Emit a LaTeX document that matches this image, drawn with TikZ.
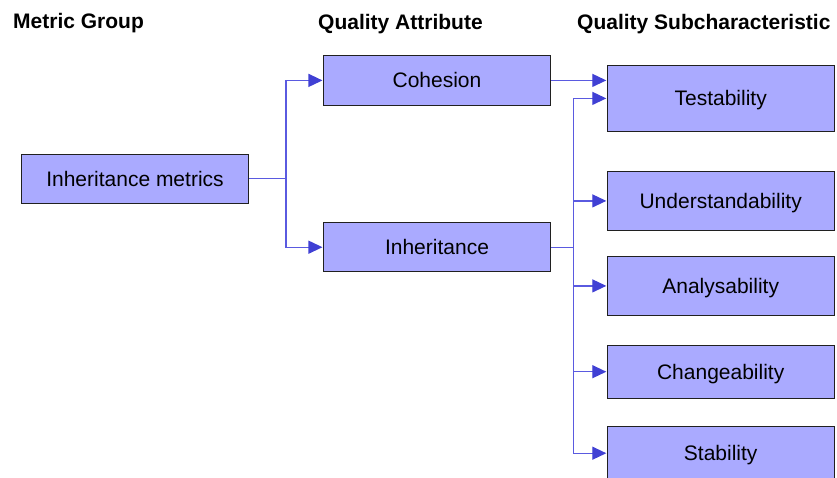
\documentclass[tikz,border=0pt]{standalone}
\usepackage{fontspec}
\setmainfont{Liberation Sans}
\usetikzlibrary{arrows.meta}
\definecolor{boxfill}{HTML}{AAAAFF}
\definecolor{boxline}{HTML}{202020}
\definecolor{conn}{HTML}{5A5AE0}
\definecolor{tip}{HTML}{4040D4}
\tikzset{
  box/.style={draw=boxline, line width=1.1pt, fill=boxfill, rectangle,
    minimum width=227pt, inner sep=0pt, text height=15pt, text depth=0pt,
    font=\fontsize{21}{25}\selectfont},
  header/.style={anchor=base west, inner sep=0pt, font=\fontsize{21}{25}\selectfont\bfseries},
  conn/.style={draw=conn, line width=1.3pt},
  arr/.style={conn, -{Triangle[length=14pt, width=13pt, color=tip]}, shorten >=0.5pt}
}
\begin{document}
\begin{tikzpicture}[x=1pt, y=-1pt]
\clip (0,0) rectangle (837,477);
\useasboundingbox (0,0) rectangle (837,477);
% headers
\node[header] (h1) at (13,28) {Metric Group};
\node[header] (h2) at (318,29.3) {Quality Attribute};
\node[header] (h3) at (577,29.3) {Quality Subcharacteristic};
% boxes
\node[box, minimum height=49pt] (im) at (135,178.8) {Inheritance metrics};
\node[box, minimum height=49.3pt] (coh) at (437,80.4) {Cohesion};
\node[box, minimum height=49pt] (inh) at (437,247.2) {Inheritance};
\node[box, minimum width=226.7pt, minimum height=65.3pt] (test) at (720.7,98.4) {Testability};
\node[box, minimum width=226.7pt, minimum height=58.3pt] (und) at (720.7,200.9) {Understandability};
\node[box, minimum width=226.7pt, minimum height=58.3pt] (ana) at (720.7,285.9) {Analysability};
\node[box, minimum width=226.7pt, minimum height=53.3pt] (chg) at (720.7,371.7) {Changeability};
\node[box, minimum width=226.7pt, minimum height=53pt] (stb) at (720.7,453.2) {Stability};
% buses
\coordinate (lb) at (286,178.8);
\coordinate (rb) at (573.3,247.2);
% connectors
\draw[conn] (im.east) -- (lb);
\draw[arr] (lb) |- (coh.west);
\draw[arr] (lb) |- (inh.west);
\draw[arr] (coh.east) -- (coh.east -| test.west);
\draw[conn] (inh.east) -- (rb);
\draw[arr] (rb) |- (test.west);
\draw[arr] (rb) |- (und.west);
\draw[arr] (rb) |- (ana.west);
\draw[arr] (rb) |- (chg.west);
\draw[arr] (rb) |- (stb.west);
\end{tikzpicture}
\end{document}
